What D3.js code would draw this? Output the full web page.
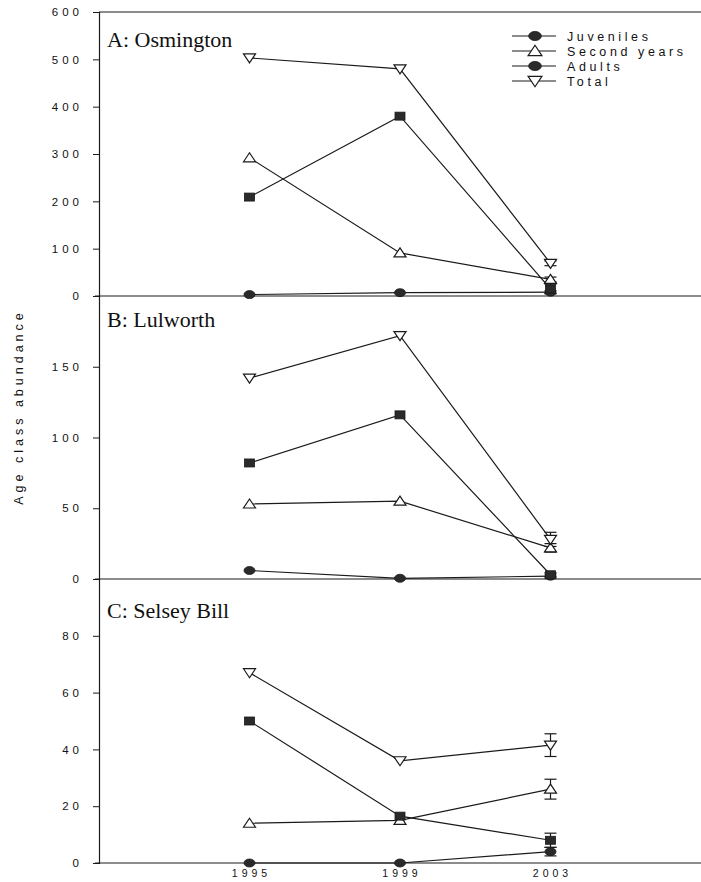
<!DOCTYPE html>
<html>
<head>
<meta charset="utf-8">
<script src="https://cdn.jsdelivr.net/npm/d3@7"></script>
<style>
  html, body { margin: 0; padding: 0; background: #fff; }
  svg { display: block; }
</style>
</head>
<body>
<svg id="chart" width="701" height="882"></svg>
<script>
// Survey years
const years = [1995, 1999, 2003];

// Series names and marker shapes
const seriesNames = ["Juveniles", "Second years", "Adults", "Total"];

// Panel titles
const siteNames = ["A: Osmington", "B: Lulworth", "C: Selsey Bill"];

// Abundance per age class, one array per site (values at 1995, 1999, 2003)
const osmJuveniles   = [3, 7, 8];
const osmSecondYears = [292, 91, 35];
const osmAdults      = [209, 380, 15];
const osmTotal       = [503, 480, 69];
const osmErrors      = [3, 5, 10, 5];   // 2003 error bars: juv, second, adults, total

const lulJuveniles   = [6, 0.5, 2];
const lulSecondYears = [53, 55, 22];
const lulAdults      = [82, 116, 3];
const lulTotal       = [142, 172, 28];
const lulErrors      = [1.5, 3, 1.5, 5];

const selJuveniles   = [0, 0, 4];
const selSecondYears = [14, 15, 26];
const selAdults      = [50, 16.5, 8];
const selTotal       = [67, 36, 41.5];
const selErrors      = [1.5, 3.5, 2.5, 4];

// Y-axis ticks per panel
const osmTicks = [0, 100, 200, 300, 400, 500, 600];
const lulTicks = [0, 50, 100, 150];
const selTicks = [0, 20, 40, 60, 80];

const yLabel = "Age class abundance";

const panels = [
  { title: siteNames[0], series: [osmJuveniles, osmSecondYears, osmAdults, osmTotal], errors: osmErrors, max: 600, ticks: osmTicks, top: 12, bottom: 296, titleDy: 35 },
  { title: siteNames[1], series: [lulJuveniles, lulSecondYears, lulAdults, lulTotal], errors: lulErrors, max: 200, ticks: lulTicks, top: 296, bottom: 579, titleDy: 31 },
  { title: siteNames[2], series: [selJuveniles, selSecondYears, selAdults, selTotal], errors: selErrors, max: 100, ticks: selTicks, top: 579, bottom: 863, titleDy: 39 }
];

const svg = d3.select("#chart");
const axisX = 99, rightX = 701;

const x = d3.scaleLinear().domain([1991, 2007]).range([axisX, rightX]);

const ink = "#1a1a1a";
const sans = "'Liberation Sans', Arial, sans-serif";

// Marker drawing: circle (juveniles), open up-triangle (second years),
// filled square (adults), open down-triangle (total)
function drawMarker(g, kind, cx, cy, big) {
  const s = big ? 1.15 : 1;
  if (kind === 0) {
    g.append("ellipse").attr("cx", cx).attr("cy", cy).attr("rx", 5.5 * s).attr("ry", 4 * s)
      .attr("fill", "#2a2a2a").attr("stroke", ink).attr("stroke-width", 0.8);
  } else if (kind === 1) {
    g.append("path").attr("d", `M${cx - 6 * s},${cy + 4 * s} L${cx + 6 * s},${cy + 4 * s} L${cx},${cy - 5 * s} Z`)
      .attr("fill", "#fff").attr("stroke", ink).attr("stroke-width", 1.2);
  } else if (kind === 2) {
    g.append("rect").attr("x", cx - 5).attr("y", cy - 4).attr("width", 10).attr("height", 8)
      .attr("fill", "#2a2a2a").attr("stroke", ink).attr("stroke-width", 0.8);
  } else {
    g.append("path").attr("d", `M${cx - 6 * s},${cy - 4 * s} L${cx + 6 * s},${cy - 4 * s} L${cx},${cy + 5 * s} Z`)
      .attr("fill", "#fff").attr("stroke", ink).attr("stroke-width", 1.2);
  }
}

panels.forEach((p) => {
  const y = d3.scaleLinear().domain([0, p.max]).range([p.bottom, p.top]);
  const g = svg.append("g");

  // Y axis with ticks
  const yAxis = d3.axisLeft(y).tickValues(p.ticks).tickSize(6).tickPadding(10).tickFormat(d3.format("d"));
  const ga = g.append("g").attr("transform", `translate(${axisX},0)`).call(yAxis);
  ga.select(".domain").attr("stroke", ink).attr("stroke-width", 1.2);
  ga.selectAll(".tick line").attr("stroke", ink);
  ga.selectAll(".tick text")
    .style("font-family", sans).style("font-size", "11.5px")
    .style("letter-spacing", "4px").attr("fill", "#111");

  // Zero baseline across the panel
  g.append("line").attr("x1", axisX - 4).attr("x2", rightX)
    .attr("y1", y(0)).attr("y2", y(0)).attr("stroke", ink).attr("stroke-width", 1.2);

  // Panel title
  g.append("text").attr("x", axisX + 8).attr("y", p.top + p.titleDy)
    .attr("font-family", "Liberation Serif, Times New Roman, serif").attr("font-size", 22)
    .attr("fill", "#111").text(p.title);

  // Lines
  const line = d3.line().x((d, i) => x(years[i])).y(d => y(d));
  p.series.forEach((s) => {
    g.append("path").attr("d", line(s)).attr("fill", "none").attr("stroke", ink).attr("stroke-width", 1.2);
  });

  // Error bars on the last survey
  p.series.forEach((s, si) => {
    const e = p.errors[si];
    const cx = x(years[2]);
    const v = s[2];
    const lo = Math.max(0, v - e), hi = v + e;
    g.append("line").attr("x1", cx).attr("x2", cx).attr("y1", y(hi)).attr("y2", y(lo))
      .attr("stroke", ink).attr("stroke-width", 1.2);
    [hi, lo].forEach(t => {
      g.append("line").attr("x1", cx - 6).attr("x2", cx + 6).attr("y1", y(t)).attr("y2", y(t))
        .attr("stroke", ink).attr("stroke-width", 1.2);
    });
  });

  // Markers
  p.series.forEach((s, si) => {
    s.forEach((v, i) => drawMarker(g, si, x(years[i]), y(v)));
  });
});

// Top frame line
svg.append("line").attr("x1", axisX).attr("x2", rightX).attr("y1", 12).attr("y2", 12)
  .attr("stroke", ink).attr("stroke-width", 1.2);

// X-axis year labels
svg.append("g").selectAll("text").data(years).join("text")
  .attr("x", d => x(d) + 2).attr("y", 877).attr("text-anchor", "middle")
  .style("font-family", sans).style("font-size", "10.5px")
  .style("letter-spacing", "4px").attr("fill", "#111").text(d => d);

// Y-axis title
svg.append("text").attr("transform", "translate(23,407) rotate(-90)")
  .attr("text-anchor", "middle").style("font-family", sans)
  .style("font-size", "12.5px").style("letter-spacing", "4px").attr("fill", "#111").text(yLabel);

// Legend
const legend = svg.append("g");
seriesNames.forEach((name, i) => {
  const ly = 36 + i * 15;
  legend.append("line").attr("x1", 512).attr("x2", 556).attr("y1", ly).attr("y2", ly)
    .attr("stroke", ink).attr("stroke-width", 1.2);
  drawMarker(legend, i === 2 ? 0 : i, 535, ly, true);
  legend.append("text").attr("x", 567).attr("y", ly + 4.5)
    .style("font-family", sans).style("font-size", "12.5px")
    .style("letter-spacing", "3.6px").attr("fill", "#111").text(name);
});
</script>
</body>
</html>
